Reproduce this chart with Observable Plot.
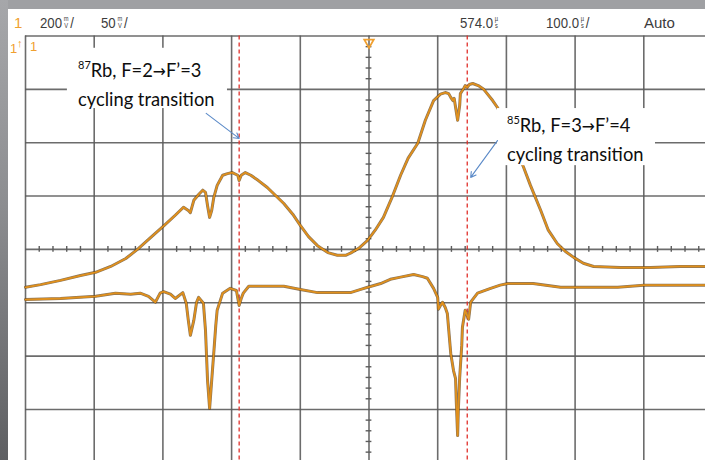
<!DOCTYPE html>
<html><head><meta charset="utf-8">
<script src="https://cdn.jsdelivr.net/npm/d3@7"></script>
<script src="https://cdn.jsdelivr.net/npm/@observablehq/plot@0.6"></script>
<style>
html,body{margin:0;padding:0;width:705px;height:460px;overflow:hidden;}
body{background:#9fa0a3;position:relative;font-family:"Liberation Sans",Arial,sans-serif;}
#leftstrip{position:absolute;left:0;top:0;width:8px;height:460px;background:linear-gradient(#a6a7aa,#8c8d90 45%,#5e5f62);}
#panel{position:absolute;left:8px;top:9px;width:697px;height:451px;background:#fff;}
.hd{position:absolute;top:15px;font-size:15px;line-height:15px;color:#3c3c3c;white-space:nowrap;transform-origin:left top;transform:scaleX(0.88);z-index:3;}
.u{display:inline-block;font-size:6.5px;line-height:7px;text-align:center;margin:0 2px;}
.or{color:#f0a030;}
#chart{position:absolute;left:8px;top:30px;z-index:1;}
.ann{position:absolute;z-index:4;font-family:Lato,"Open Sans",sans-serif;font-size:20px;line-height:24.5px;color:#0e0e0e;white-space:nowrap;transform-origin:left top;}
.ann .sp{position:relative;top:-8px;font-size:12px;}
.ann .ar{font-family:"DejaVu Sans",sans-serif;font-size:17px;}
.mark{position:absolute;z-index:3;font-size:13px;line-height:13px;color:#f0a030;}
</style></head>
<body>
<div id="leftstrip"></div>
<div id="panel"></div>
<div class="hd or" style="left:14px;transform:none">1</div>
<div class="hd" style="left:40px">200<span class="u">m<br>V</span>/</div>
<div class="hd" style="left:101px">50<span class="u">m<br>V</span>/</div>
<div class="hd" style="left:460px">574.0<span class="u">µ<br>s</span></div>
<div class="hd" style="left:546px">100.0<span class="u">µ<br>s</span>/</div>
<div class="hd" style="left:644px;transform:scaleX(1.0)">Auto</div>
<div class="mark" style="left:10px;top:42px">1</div>
<div class="mark" style="left:17px;top:37px;font-size:11px">↑</div>
<div class="mark" style="left:30px;top:40px">1</div>
<div id="a1" class="ann"><span class="l1"><span class="sp">87</span>Rb, F=2<span class="ar">→</span>F’=3</span><span class="bl" style="display:inline-block;width:0;height:0"></span><br><span class="l2">cycling transition</span></div>
<div id="a2" class="ann"><span class="l1"><span class="sp">85</span>Rb, F=3<span class="ar">→</span>F’=4</span><span class="bl" style="display:inline-block;width:0;height:0"></span><br><span class="l2">cycling transition</span></div>
<script>
// Horizontal: time in µs (100 µs/div, 574.0 µs at centre). Vertical: screen divisions.
const gridTimes = [74,174,274,374,474,574,674,774,874,974];
const gridDivs = [-4,-3,-2,-1,0,1,2,3,4];
const markerTimes = [385, 717];

// Channel 1 (upper, Doppler-broadened absorption)
const upperTime = [74,96,125,154,176,198,220,237,256,276,292,304,311,314,319,326,332,336,339,342,345,348,353,361,368,375,383,385,388,394,402,413,426,438,450,463,474,486,499,514,528,540,547,559,572,583,595,608,620,631,645,656,668,678,685,690,693,696,698,703,706,707,712,714,717,720,725,733,741,746,754,761,773,787,799,809,824,835,848,860,872,886,901,940,984,1027,1064];
const upperDiv = [-0.71,-0.66,-0.58,-0.49,-0.43,-0.32,-0.17,0,0.22,0.45,0.64,0.79,0.73,0.69,0.92,1.03,1.11,1.07,0.82,0.60,0.73,0.97,1.20,1.39,1.42,1.44,1.39,1.29,1.39,1.44,1.39,1.29,1.16,1.01,0.86,0.66,0.45,0.24,0.07,-0.06,-0.11,-0.11,-0.07,0.02,0.17,0.36,0.60,0.99,1.39,1.71,1.99,2.42,2.79,2.91,2.94,2.92,2.85,2.79,2.83,2.42,2.70,2.92,3.02,3.07,3.04,3.09,3.11,3.07,3.00,2.92,2.79,2.66,2.32,1.91,1.54,1.20,0.73,0.36,0.11,-0.04,-0.15,-0.26,-0.32,-0.34,-0.34,-0.32,-0.32];

// Channel 2 (lower, saturated absorption)
const lowerTime = [74,125,176,205,227,241,253,263,270,275,285,292,303,308,311,314,319,323,326,333,336,339,342,345,348,351,353,361,372,381,385,388,391,399,423,450,474,499,525,547,562,572,591,605,620,639,652,659,668,674,675,678,681,685,688,693,697,700,701,703,704,706,709,710,714,719,722,732,751,765,776,813,853,896,936,974,1064];
const lowerDiv = [-0.94,-0.92,-0.88,-0.82,-0.84,-0.82,-0.88,-0.99,-0.82,-0.79,-0.84,-0.92,-0.81,-1.01,-1.33,-1.61,-1.33,-0.99,-0.90,-1.01,-1.52,-2.46,-2.98,-2.46,-1.95,-1.42,-1.14,-0.82,-0.73,-0.77,-1.05,-0.92,-0.82,-0.69,-0.69,-0.69,-0.75,-0.81,-0.81,-0.81,-0.75,-0.71,-0.64,-0.56,-0.52,-0.47,-0.51,-0.54,-0.73,-0.90,-1.12,-1.05,-0.99,-1.09,-1.20,-1.95,-2.27,-2.42,-2.83,-3.49,-3.02,-2.40,-1.80,-1.46,-1.14,-1.31,-0.99,-0.82,-0.73,-0.67,-0.64,-0.64,-0.71,-0.71,-0.71,-0.67,-0.67];

// Annotations
const boxT1 = [135, 761], boxT2 = [368, 991], boxV1 = [2.64, 1.57], boxV2 = [3.77, 2.64];
const arrowT1 = [337, 761], arrowV1 = [2.55, 2.04], arrowT2 = [385, 722], arrowV2 = [2.08, 1.35];
const labelT = [151, 776], labelV = [3.22, 2.19];

const upper = upperTime.map((t, i) => ({t, v: upperDiv[i]}));
const lower = lowerTime.map((t, i) => ({t, v: lowerDiv[i]}));
const boxes = boxT1.map((t, i) => ({t1: t, t2: boxT2[i], v1: boxV1[i], v2: boxV2[i]}));
const arrows = arrowT1.map((t, i) => ({t1: t, v1: arrowV1[i], t2: arrowT2[i], v2: arrowV2[i]}));
const minorT = d3.range(74, 1074, 20).filter(t => (t - 74) % 100 !== 0);
const minorV = d3.range(-40, 41, 2).map(d => d / 10).filter(v => Math.abs(v - Math.round(v)) > 1e-6);

const gridStyle = {stroke: "#5c5c5c", strokeWidth: 1.6, strokeOpacity: 0.9};
const plot = Plot.plot({
  width: 704, height: 434,
  marginLeft: 17, marginRight: 0, marginTop: 5.5, marginBottom: 1.7,
  x: {domain: [74, 1074], axis: null},
  y: {domain: [-4, 4], axis: null},
  style: {background: "transparent", overflow: "visible"},
  marks: [
    Plot.ruleX(gridTimes, gridStyle),
    Plot.ruleY(gridDivs, gridStyle),
    Plot.ruleX(minorT, {x: d => d, y1: () => -0.055, y2: () => 0.055, stroke: "#5c5c5c", strokeWidth: 1.4}),
    Plot.ruleY(minorV, {y: d => d, x1: () => 569.8, x2: () => 578.2, stroke: "#5c5c5c", strokeWidth: 1.4}),
    Plot.ruleX(markerTimes, {stroke: "#e0302a", strokeWidth: 1.3, strokeDasharray: "4,3"}),
    Plot.line(upper, {x: "t", y: "v", stroke: "#5a3b12", strokeWidth: 3.0, strokeOpacity: 0.7}),
    Plot.line(upper, {x: "t", y: "v", stroke: "#e0901c", strokeWidth: 1.8}),
    Plot.line(lower, {x: "t", y: "v", stroke: "#5a3b12", strokeWidth: 3.0, strokeOpacity: 0.7}),
    Plot.line(lower, {x: "t", y: "v", stroke: "#e0901c", strokeWidth: 1.8}),
    Plot.rect(boxes, {x1: "t1", x2: "t2", y1: "v1", y2: "v2", fill: "white"}),
    Plot.arrow(arrows, {x1: "t1", y1: "v1", x2: "t2", y2: "v2", stroke: "#5b8ac8", strokeWidth: 1.1, headLength: 8}),
    Plot.dot([574], {x: d => d, y: () => 3.88, symbol: "triangle", rotate: 180, r: 3.5, stroke: "#f0a030", strokeWidth: 1.8, fill: "none"})
  ]
});
plot.id = "chart";
document.body.appendChild(plot);

const sx = plot.scale("x"), sy = plot.scale("y");
["a1", "a2"].forEach((id, i) => {
  const el = document.getElementById(id);
  const w = el.querySelector(".l2").getBoundingClientRect().width;
  el.style.transform = `scaleX(${136.5 / w})`;
  const left = 8 + sx.apply(labelT[i]);
  const base = 30 + sy.apply(labelV[i]);
  el.style.left = left + "px";
  el.style.top = "0px";
  const b = el.querySelector(".bl").getBoundingClientRect().bottom;
  el.style.top = (base - b) + "px";
});
</script>
</body></html>
